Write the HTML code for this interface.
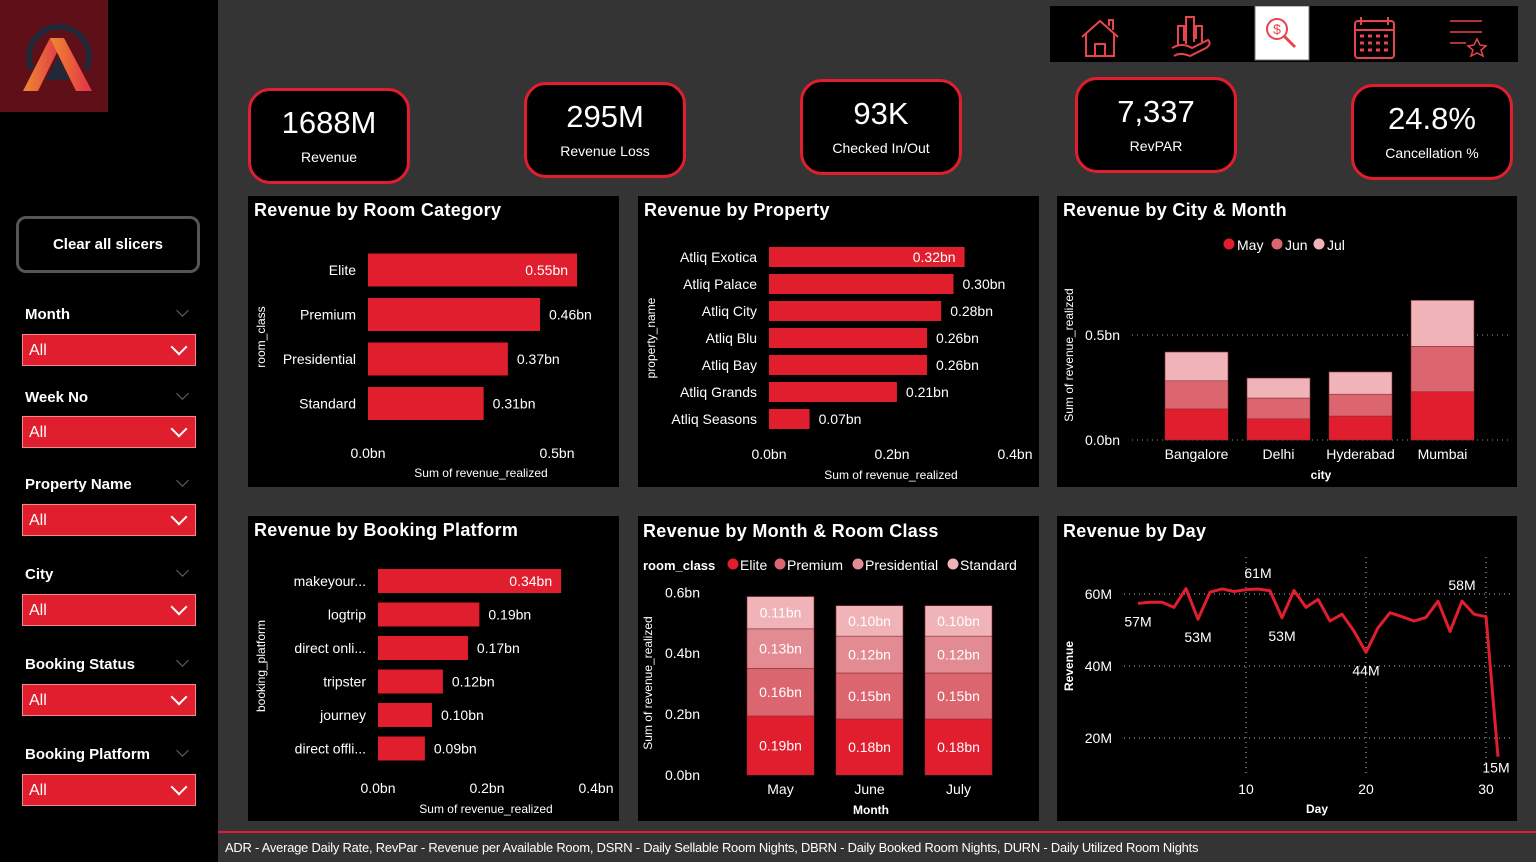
<!DOCTYPE html>
<html><head><meta charset="utf-8">
<style>
*{margin:0;padding:0;box-sizing:border-box}
body{width:1536px;height:862px;background:#343434;font-family:"Liberation Sans",sans-serif;color:#fff;position:relative;overflow:hidden}
.abs{position:absolute}
.side{left:0;top:0;width:218px;height:862px;background:#000}
.logo{left:0;top:0;width:108px;height:112px;background:#5f0f17}
.clear{left:16px;top:216px;width:184px;height:57px;border:3px solid #555;border-radius:10px;font-weight:bold;font-size:15px;display:flex;align-items:center;justify-content:center}
.slab{left:25px;font-weight:bold;font-size:15px}
.schev{left:178px;width:9px;height:9px;border-right:1px solid #666;border-bottom:1px solid #666;transform:rotate(45deg)}
.dd{left:22px;width:174px;height:32px;background:#e01e2e;border:1px solid #f08890;font-size:16px;padding:7px 0 0 6px}
.dd::after{content:"";position:absolute;right:10px;top:6px;width:10px;height:10px;border-right:2px solid #fff;border-bottom:2px solid #fff;transform:rotate(45deg)}
.card{width:162px;height:96px;background:#000;border:3px solid #e01e2e;border-radius:22px;text-align:center}
.card .v{font-size:31px;margin-top:14px}
.card .l{font-size:14px;margin-top:8px}
.panel{background:#000}
.nav{left:1050px;top:6px;width:468px;height:56px;background:#000}
.foot{left:218px;top:831px;width:1318px;height:2px;background:#e01e2e}
.ftxt{left:225px;top:840px;font-size:12.9px;letter-spacing:-0.2px}
</style></head><body>
<div class="abs side"></div>
<div class="abs logo">
<svg width="108" height="112" viewBox="0 0 108 112"><defs><linearGradient id="lg" x1="0" x2="1"><stop offset="0" stop-color="#f08a30"/><stop offset="1" stop-color="#e0304a"/></linearGradient></defs>
<path d="M32 70 A30 30 0 1 1 86 70" fill="none" stroke="#232838" stroke-width="6"/>
<polygon points="46,80 70,80 58,56" fill="#232838"/>
<polygon points="23,91 50,38 64,38 38,91" fill="url(#lg)"/><polygon points="50,38 64,38 92,91 76,91" fill="url(#lg)"/></svg></div>
<div class="abs clear">Clear all slicers</div>

<div class="abs slab" style="top:306px">Month</div><div class="abs schev" style="top:306px"></div>
<div class="abs dd" style="top:334px">All</div>
<div class="abs slab" style="top:389px">Week No</div><div class="abs schev" style="top:389px"></div>
<div class="abs dd" style="top:416px">All</div>
<div class="abs slab" style="top:476px">Property Name</div><div class="abs schev" style="top:476px"></div>
<div class="abs dd" style="top:504px">All</div>
<div class="abs slab" style="top:566px">City</div><div class="abs schev" style="top:566px"></div>
<div class="abs dd" style="top:594px">All</div>
<div class="abs slab" style="top:656px">Booking Status</div><div class="abs schev" style="top:656px"></div>
<div class="abs dd" style="top:684px">All</div>
<div class="abs slab" style="top:746px">Booking Platform</div><div class="abs schev" style="top:746px"></div>
<div class="abs dd" style="top:774px">All</div>

<div class="abs nav">
<svg width="468" height="56" viewBox="0 0 468 56" fill="none" stroke="#e8444e" stroke-width="2">
<g><path d="M32 31 L50 15 L68 31 M36 28 V50 H64 V28 M45 50 V38 H55 V50 M59 20 V14 H63 V24"/></g>
<g><path d="M128 40 V20 H134 V35 M136 38 V11 H144 V36 M146 33 V20 H152 V36 M122 42 Q132 36 142 42 L158 34 Q162 38 156 42 L140 50 Q130 46 124 50"/></g>
<rect x="205" y="0" width="54" height="54" fill="#fff" stroke="#777" stroke-width="1"/>
<circle cx="227" cy="23" r="10"/><path d="M234 30 L245 41" stroke-width="3"/><text x="227" y="28" font-size="14" fill="#e8444e" stroke="none" text-anchor="middle">$</text>
<g><rect x="305" y="15" width="39" height="37" rx="3"/><path d="M305 24 H344 M311 11 V19 M338 11 V19"/><path d="M310 30h4M318 30h4M326 30h4M334 30h4M310 37h4M318 37h4M326 37h4M334 37h4M310 44h4M318 44h4M326 44h4M334 44h4" stroke-width="3"/></g>
<g><path d="M400 15 H432 M400 26 H432 M400 37 H416" stroke-width="1.5"/><polygon points="427,33 430,39 436,40 431,44 433,50 427,47 421,50 423,44 418,40 424,39" stroke-width="1.5"/></g>
</svg></div>

<div class="abs card" style="left:248px;top:88px"><div class="v">1688M</div><div class="l">Revenue</div></div>
<div class="abs card" style="left:524px;top:82px"><div class="v">295M</div><div class="l">Revenue Loss</div></div>
<div class="abs card" style="left:800px;top:79px"><div class="v">93K</div><div class="l">Checked In/Out</div></div>
<div class="abs card" style="left:1075px;top:77px"><div class="v">7,337</div><div class="l">RevPAR</div></div>
<div class="abs card" style="left:1351px;top:84px"><div class="v">24.8%</div><div class="l">Cancellation %</div></div>

<div class="abs panel" style="left:248px;top:196px;width:371px;height:291px"></div>
<div class="abs panel" style="left:638px;top:196px;width:401px;height:291px"></div>
<div class="abs panel" style="left:1057px;top:196px;width:460px;height:291px"></div>
<div class="abs panel" style="left:248px;top:516px;width:371px;height:305px"></div>
<div class="abs panel" style="left:638px;top:516px;width:401px;height:305px"></div>
<div class="abs panel" style="left:1057px;top:516px;width:460px;height:305px"></div>

<div class="abs foot"></div>
<div class="abs ftxt">ADR - Average Daily Rate, RevPar - Revenue per Available Room, DSRN - Daily Sellable Room Nights, DBRN - Daily Booked Room Nights, DURN - Daily Utilized Room Nights</div>

<svg id="charts" class="abs" style="left:0;top:0" width="1536" height="862" font-family="Liberation Sans, sans-serif"></svg>
<script>
// Room category
const roomCats=["Elite","Premium","Presidential","Standard"];
const roomVals=[0.553,0.455,0.370,0.306];
// Property
const props=["Atliq Exotica","Atliq Palace","Atliq City","Atliq Blu","Atliq Bay","Atliq Grands","Atliq Seasons"];
const propVals=[0.318,0.300,0.280,0.257,0.257,0.208,0.066];
// City & month
const cities=["Bangalore","Delhi","Hyderabad","Mumbai"];
const cityMay=[0.148,0.101,0.114,0.230];
const cityJun=[0.134,0.099,0.104,0.216];
const cityJul=[0.137,0.095,0.106,0.219];
// Booking platform
const platforms=["makeyour...","logtrip","direct onli...","tripster","journey","direct offli..."];
const platVals=[0.336,0.186,0.165,0.119,0.099,0.086];
// Month & room class
const months=["May","June","July"];
const mcElite=[0.194,0.184,0.184];
const mcPremium=[0.156,0.151,0.151];
const mcPresidential=[0.130,0.121,0.121];
const mcStandard=[0.106,0.100,0.100];
// Revenue by day (M)
const days=[1,2,3,4,5,6,7,8,9,10,11,12,13,14,15,16,17,18,19,20,21,22,23,24,25,26,27,28,29,30,31];
const dayRev=[57.4,57.7,57.7,56.3,61.5,53.0,60.5,61.4,60.7,61.2,61.4,60.9,53.4,61.0,56.3,58.5,52.5,54.4,49.7,43.8,50.6,54.8,53.7,52.5,53.5,58.0,49.6,58.0,54.4,53.7,14.8];
const dayLabelIdx=[0,5,10,12,19,27,30];
const dayTicks=[10,20,30];
const revTicks=[20,40,60];

const S=document.getElementById('charts');
const NS="http://www.w3.org/2000/svg";
function el(tag,attrs,txt){const e=document.createElementNS(NS,tag);for(const k in attrs)e.setAttribute(k,attrs[k]);if(txt!==undefined)e.textContent=txt;S.appendChild(e);return e;}
function txt(x,y,s,size,anchor,extra){return el('text',Object.assign({x:x,y:y,fill:'#fff','font-size':size||14,'text-anchor':anchor||'start'},extra||{}),s);}
function fmt(v){return v.toFixed(2)+'bn';}
const RED="#e01e2e",C2="#dc6670",C3="#e38b93",C4="#efb3b8";

// titles
[["Revenue by Room Category",254,216],["Revenue by Property",644,216],["Revenue by City & Month",1063,216],["Revenue by Booking Platform",254,536],["Revenue by Month & Room Class",643,537],["Revenue by Day",1063,537]].forEach(t=>{
 const e=txt(t[1],t[2],t[0],18,'start',{'font-weight':'bold','letter-spacing':'0.3'});
 
 
});

// Room category (horizontal)
(function(){const x0=368,k=378,yc=i=>270+i*44.5,h=33;
 roomCats.forEach((c,i)=>{const w=roomVals[i]*k;
  const r=el('rect',{x:x0,y:yc(i)-h/2,width:w,height:h,fill:RED});
  
  
  txt(356,yc(i)+5,c,14,'end');
  if(i===0)txt(x0+w-9,yc(i)+5,fmt(roomVals[i]),14,'end');else txt(x0+w+9,yc(i)+5,fmt(roomVals[i]),14);
 });
 [0,0.5].forEach(t=>txt(x0+t*k,458,t.toFixed(1)+'bn',14,'middle'));
 txt(481,477,'Sum of revenue_realized',12,'middle');
 txt(265,337,'room_class',12,'middle',{transform:'rotate(-90 265 337)'});
})();

// Property
(function(){const x0=769,k=615,yc=i=>257+i*27,h=20;
 props.forEach((c,i)=>{const w=propVals[i]*k;
  const r=el('rect',{x:x0,y:yc(i)-h/2,width:w,height:h,fill:RED});
  
  
  txt(757,yc(i)+5,c,14,'end');
  if(i===0)txt(x0+w-9,yc(i)+5,fmt(propVals[i]),14,'end');else txt(x0+w+9,yc(i)+5,fmt(propVals[i]),14);
 });
 [0,0.2,0.4].forEach(t=>txt(x0+t*k,459,t.toFixed(1)+'bn',14,'middle'));
 txt(891,479,'Sum of revenue_realized',12,'middle');
 txt(655,338,'property_name',12,'middle',{transform:'rotate(-90 655 338)'});
})();

// City & month stacked
(function(){const y0=440,k=210,xc=i=>1196.5+i*82,w=63;
 el('line',{x1:1132,y1:y0,x2:1510,y2:y0,stroke:'#999','stroke-dasharray':'1 4'});
 el('line',{x1:1132,y1:y0-0.5*k,x2:1510,y2:y0-0.5*k,stroke:'#999','stroke-dasharray':'1 4'});
 cities.forEach((c,i)=>{let base=y0;
  [[cityMay,RED],[cityJun,C2],[cityJul,C4]].forEach(s=>{const hh=s[0][i]*k;
   const r=el('rect',{x:xc(i)-w/2,y:base-hh,width:w,height:hh,fill:s[1],stroke:'#8a3038','stroke-width':0.6});
   
   
   base-=hh;});
  txt(xc(i),459,c,14,'middle');
 });
 txt(1120,445,'0.0bn',14,'end');txt(1120,340,'0.5bn',14,'end');
 txt(1321,479,'city',12,'middle',{'font-weight':'bold'});
 txt(1073,355,'Sum of revenue_realized',12,'middle',{transform:'rotate(-90 1073 355)'});
 [["May",1229,RED],["Jun",1277,C2],["Jul",1319,C4]].forEach(l=>{const c=el('circle',{cx:l[1],cy:244,r:5.5,fill:l[2]});txt(l[1]+8,250,l[0],14);});
})();

// Booking platform
(function(){const x0=378,k=545,yc=i=>581+i*33.5,h=24;
 platforms.forEach((c,i)=>{const w=platVals[i]*k;
  const r=el('rect',{x:x0,y:yc(i)-h/2,width:w,height:h,fill:RED});
  
  
  txt(366,yc(i)+5,c,14,'end');
  if(i===0)txt(x0+w-9,yc(i)+5,fmt(platVals[i]),14,'end');else txt(x0+w+9,yc(i)+5,fmt(platVals[i]),14);
 });
 [0,0.2,0.4].forEach(t=>txt(x0+t*k,793,t.toFixed(1)+'bn',14,'middle'));
 txt(486,813,'Sum of revenue_realized',12,'middle');
 txt(265,666,'booking_platform',12,'middle',{transform:'rotate(-90 265 666)'});
})();

// Month & room class
(function(){const y0=775,k=304.5,xc=i=>780.5+i*89,w=67;
 [0,0.2,0.4,0.6].forEach(t=>txt(700,y0-t*k+5,t.toFixed(1)+'bn',14,'end'));
 months.forEach((m,i)=>{let base=y0;
  [[mcElite,RED],[mcPremium,C2],[mcPresidential,C3],[mcStandard,C4]].forEach(s=>{const hh=s[0][i]*k;
   const r=el('rect',{x:xc(i)-w/2,y:base-hh,width:w,height:hh,fill:s[1],stroke:'#8a3038','stroke-width':0.6});
   
   
   txt(xc(i),base-hh/2+5,fmt(s[0][i]),14,'middle');
   base-=hh;});
  txt(xc(i),794,m,14,'middle');
 });
 txt(871,814,'Month',12,'middle',{'font-weight':'bold'});
 txt(652,683,'Sum of revenue_realized',12,'middle',{transform:'rotate(-90 652 683)'});
 txt(643,570,'room_class',13,'start',{'font-weight':'bold'});
 [["Elite",733,RED],["Premium",780,C2],["Presidential",858,C3],["Standard",953,C4]].forEach(l=>{const c=el('circle',{cx:l[1],cy:564,r:5.5,fill:l[2]});txt(l[1]+7,570,l[0],14);});
})();

// Revenue by day
(function(){const X=d=>1138+(d-1)*12,Y=v=>810-v*3.6;
 revTicks.forEach(t=>{el('line',{x1:1124,y1:Y(t),x2:1510,y2:Y(t),stroke:'#bbb','stroke-dasharray':'1 4'});txt(1112,Y(t)+5,t+'M',14,'end');});
 dayTicks.forEach(t=>{el('line',{x1:X(t),y1:557,x2:X(t),y2:775,stroke:'#bbb','stroke-dasharray':'1 4'});txt(X(t),794,String(t),14,'middle');});
 const p=el('polyline',{points:days.map((d,i)=>X(d)+','+Y(dayRev[i])).join(' '),fill:'none',stroke:RED,'stroke-width':3,'stroke-linejoin':'round'});
 
 
 dayLabelIdx.forEach(i=>{const v=dayRev[i];const up=(i===10||i===27);
  txt(X(days[i])+(i===30?-2:0),up?Y(v)-11:Y(v)+(i===30?16:23),Math.round(v)+'M',14,'middle');});
 txt(1317,813,'Day',12,'middle',{'font-weight':'bold'});
 txt(1073,666,'Revenue',12,'middle',{transform:'rotate(-90 1073 666)','font-weight':'bold'});
})();
</script>
</body></html>
